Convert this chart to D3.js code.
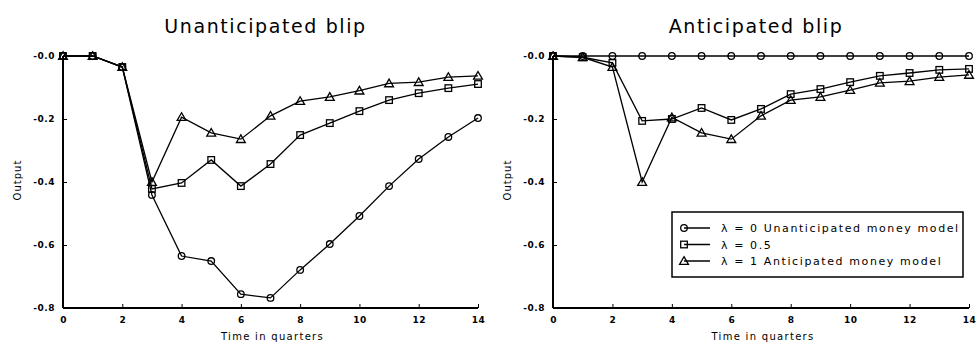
<!DOCTYPE html>
<html>
<head>
<meta charset="utf-8">
<script src="https://cdn.jsdelivr.net/npm/d3@7"></script>
<style>
  body { margin: 0; background: #fff; }
  text { font-family: "DejaVu Sans", sans-serif; fill: #000; }
</style>
</head>
<body>
<div id="chart"></div>
<script>
// quarters 0..14
const quarters = d3.range(0, 15);
const xTicks = [0, 2, 4, 6, 8, 10, 12, 14];
const yTicks = [0, -0.2, -0.4, -0.6, -0.8];

// Unanticipated blip
const unantLambda0  = [0, 0, -0.035, -0.441, -0.635, -0.651, -0.756, -0.768, -0.679, -0.597, -0.508, -0.413, -0.327, -0.257, -0.197];
const unantLambda05 = [0, 0, -0.035, -0.422, -0.403, -0.330, -0.413, -0.343, -0.251, -0.213, -0.175, -0.140, -0.118, -0.102, -0.089];
const unantLambda1  = [0, 0, -0.035, -0.400, -0.194, -0.244, -0.264, -0.190, -0.143, -0.130, -0.110, -0.087, -0.083, -0.067, -0.063];

// Anticipated blip
const antLambda0  = [0, 0, 0, 0, 0, 0, 0, 0, 0, 0, 0, 0, 0, 0, 0];
const antLambda05 = [0, -0.004, -0.022, -0.206, -0.200, -0.165, -0.203, -0.168, -0.121, -0.105, -0.083, -0.063, -0.054, -0.044, -0.041];
const antLambda1  = [0, -0.004, -0.035, -0.400, -0.195, -0.244, -0.264, -0.190, -0.140, -0.130, -0.108, -0.085, -0.080, -0.067, -0.060];

const seriesNames = ["\u03bb = 0 Unanticipated money model", "\u03bb = 0.5", "\u03bb = 1 Anticipated money model"];
const markers = ["circle", "square", "triangle"];

const W = 976, H = 344;
const svg = d3.select("#chart").append("svg").attr("width", W).attr("height", H);

function marker(g, type, x, y) {
  if (type === "circle") {
    g.append("circle").attr("cx", x).attr("cy", y).attr("r", 3.3)
      .attr("fill", "none").attr("stroke", "#000").attr("stroke-width", 1.3);
  } else if (type === "square") {
    g.append("rect").attr("x", x - 3.3).attr("y", y - 3.3).attr("width", 6.6).attr("height", 6.6)
      .attr("fill", "none").attr("stroke", "#000").attr("stroke-width", 1.3);
  } else {
    g.append("path").attr("d", d3.symbol(d3.symbolTriangle, 34)())
      .attr("transform", `translate(${x},${y + 0.8})`)
      .attr("fill", "none").attr("stroke", "#000").attr("stroke-width", 1.3);
  }
}

function panel(x0, x1, title, series) {
  const x = d3.scaleLinear().domain([0, 14]).range([x0, x1]);
  const y = d3.scaleLinear().domain([-0.8, 0]).range([308, 56]);
  const g = svg.append("g");

  g.append("text").attr("x", (x0 + x1) / 2 - 5).attr("y", 33).attr("text-anchor", "middle")
    .style("font-size", "19px").style("letter-spacing", "1.6px").text(title);

  // axes
  const ax = d3.axisBottom(x).tickValues(xTicks).tickSize(-4).tickPadding(9).tickFormat(d3.format("d"));
  const xg = g.append("g").attr("transform", "translate(0,308)").call(ax);
  const ay = d3.axisLeft(y).tickValues(yTicks).tickSize(-4).tickPadding(8)
    .tickFormat(d => d === 0 ? "-0.0" : d3.format(".1f")(d).replace("\u2212", "-"));
  const yg = g.append("g").attr("transform", `translate(${x0},0)`).call(ay);
  [xg, yg].forEach(a => {
    a.select(".domain").attr("stroke-width", 2);
    a.selectAll("text").attr("fill", "#000").style("font-size", "9px").style("font-weight", "bold").style("letter-spacing", "0.5px");
  });
  xg.select(".domain").attr("d", `M${x0},0H${x1}`);
  yg.select(".domain").attr("d", `M0,56V308`);

  g.append("text").attr("x", (x0 + x1) / 2 + 2).attr("y", 340).attr("text-anchor", "middle")
    .attr("fill", "#000").style("font-size", "10px").style("letter-spacing", "1.3px").text("Time in quarters");
  g.append("text").attr("transform", `translate(${x0 - 42},180) rotate(-90)`).attr("text-anchor", "middle")
    .attr("fill", "#000").style("font-size", "10px").style("letter-spacing", "1px").text("Output");

  const line = d3.line().x((d, i) => x(quarters[i])).y(d => y(d));
  series.forEach((s, k) => {
    g.append("path").datum(s).attr("d", line).attr("fill", "none")
      .attr("stroke", "#000").attr("stroke-width", 1.3);
    s.forEach((v, i) => marker(g, markers[k], x(quarters[i]), y(v)));
  });
  return { x, y, g };
}

panel(63, 478, "Unanticipated blip", [unantLambda0, unantLambda05, unantLambda1]);
panel(553, 969, "Anticipated blip", [antLambda0, antLambda05, antLambda1]);

// legend
const lg = svg.append("g");
lg.append("rect").attr("x", 672).attr("y", 212).attr("width", 291).attr("height", 65)
  .attr("fill", "#fff").attr("stroke", "#000").attr("stroke-width", 1.5);
seriesNames.forEach((name, k) => {
  const yy = 228 + k * 16.5;
  lg.append("line").attr("x1", 684).attr("x2", 710).attr("y1", yy).attr("y2", yy)
    .attr("stroke", "#000").attr("stroke-width", 1.5);
  marker(lg, markers[k], 684, yy);
  lg.append("text").attr("x", 721).attr("y", yy + 4)
    .style("font-size", "11px").style("letter-spacing", "1.6px").text(name);
});
</script>
</body>
</html>
